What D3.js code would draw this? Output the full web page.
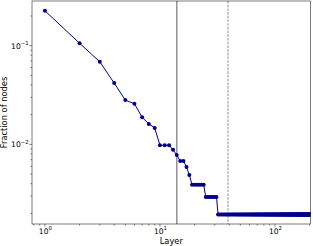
<!DOCTYPE html>
<html>
<head>
<meta charset="utf-8">
<script src="https://cdn.jsdelivr.net/npm/d3@7"></script>
<style>
    body { margin: 0; background: #fff; }
    text { font-family: "DejaVu Sans", sans-serif; }
</style>
</head>
<body>
<div id="chart"></div>
<script>
// fraction of nodes per layer (layer = index + 1)
let fractions = [
    0.226, 0.106, 0.0687, 0.0418, 0.0281, 0.0258, 0.0188, 0.0161, 0.0147, 0.0098,
    0.0098, 0.0098, 0.0088, 0.0078, 0.0068, 0.0068, 0.0059, 0.0049, 0.0039, 0.0039,
    0.0039, 0.0039, 0.0039, 0.0039, 0.00293, 0.00293, 0.00293, 0.00293, 0.00293, 0.00293,
    0.00293, 0.00195, 0.00195, 0.00195, 0.00195, 0.00195, 0.00195, 0.00195, 0.00195, 0.00195,
    0.00195, 0.00195, 0.00195, 0.00195, 0.00195, 0.00195, 0.00195, 0.00195, 0.00195, 0.00195,
    0.00195, 0.00195, 0.00195, 0.00195, 0.00195, 0.00195, 0.00195, 0.00195, 0.00195, 0.00195,
    0.00195, 0.00195, 0.00195, 0.00195, 0.00195, 0.00195, 0.00195, 0.00195, 0.00195, 0.00195,
    0.00195, 0.00195, 0.00195, 0.00195, 0.00195, 0.00195, 0.00195, 0.00195, 0.00195, 0.00195,
    0.00195, 0.00195, 0.00195, 0.00195, 0.00195, 0.00195, 0.00195, 0.00195, 0.00195, 0.00195,
    0.00195, 0.00195, 0.00195, 0.00195, 0.00195, 0.00195, 0.00195, 0.00195, 0.00195, 0.00195,
    0.00195, 0.00195, 0.00195, 0.00195, 0.00195, 0.00195, 0.00195, 0.00195, 0.00195, 0.00195,
    0.00195, 0.00195, 0.00195, 0.00195, 0.00195, 0.00195, 0.00195, 0.00195, 0.00195, 0.00195,
    0.00195, 0.00195, 0.00195, 0.00195, 0.00195, 0.00195, 0.00195, 0.00195, 0.00195, 0.00195,
    0.00195, 0.00195, 0.00195, 0.00195, 0.00195, 0.00195, 0.00195, 0.00195, 0.00195, 0.00195,
    0.00195, 0.00195, 0.00195, 0.00195, 0.00195, 0.00195, 0.00195, 0.00195, 0.00195, 0.00195,
    0.00195, 0.00195, 0.00195, 0.00195, 0.00195, 0.00195, 0.00195, 0.00195, 0.00195, 0.00195,
    0.00195, 0.00195, 0.00195, 0.00195, 0.00195, 0.00195, 0.00195, 0.00195, 0.00195, 0.00195,
    0.00195, 0.00195, 0.00195, 0.00195, 0.00195, 0.00195, 0.00195, 0.00195, 0.00195, 0.00195,
    0.00195, 0.00195, 0.00195, 0.00195, 0.00195, 0.00195, 0.00195, 0.00195, 0.00195, 0.00195,
    0.00195, 0.00195, 0.00195, 0.00195, 0.00195, 0.00195, 0.00195, 0.00195, 0.00195, 0.00195,
    0.00195, 0.00195, 0.00195, 0.00195
];
let solidLine = [14];
let dashedLine = [39];
let xTicks = [1, 10, 100];
let yTicks = [0.01, 0.1];
let xDomain = [0.772, 203.5];
let yDomain = [0.00156, 0.284];

(() => {
    let w = 313;
    let h = 246;
    let m = {left: 32, right: 2.5, top: 1, bottom: 22};
    let iw = w - m.left - m.right;
    let ih = h - m.top - m.bottom;

    let svg = d3.select("#chart")
        .append("svg")
        .attr("width", w)
        .attr("height", h);

    let x = d3.scaleLog().domain(xDomain).range([0, iw]);
    let y = d3.scaleLog().domain(yDomain).range([ih, 0]);

    let g = svg.append("g")
        .attr("transform", "translate(" + m.left + "," + m.top + ")");

    svg.append("clipPath")
        .attr("id", "clip")
        .append("rect")
        .attr("width", iw)
        .attr("height", ih);

    // minor ticks
    let minorX = [];
    for (let d = 0.1; d <= 100; d *= 10) {
        for (let k = 2; k <= 9; k++) {
            let v = +(d * k).toPrecision(3);
            if (v > xDomain[0] && v < xDomain[1]) minorX.push(v);
        }
    }
    let minorY = [];
    for (let d = 0.001; d <= 0.1; d *= 10) {
        for (let k = 2; k <= 9; k++) {
            let v = +(d * k).toPrecision(3);
            if (v > yDomain[0] && v < yDomain[1]) minorY.push(v);
        }
    }

    let tickColor = "#333";

    g.selectAll(".xminor")
        .data(minorX)
        .enter()
        .append("line")
        .attr("x1", d => x(d)).attr("x2", d => x(d))
        .attr("y1", ih).attr("y2", ih + 1.6)
        .attr("stroke", tickColor).attr("stroke-width", 0.6);

    g.selectAll(".yminor")
        .data(minorY)
        .enter()
        .append("line")
        .attr("y1", d => y(d)).attr("y2", d => y(d))
        .attr("x1", 0).attr("x2", -1.6)
        .attr("stroke", tickColor).attr("stroke-width", 0.6);

    g.selectAll(".xmajor")
        .data(xTicks)
        .enter()
        .append("line")
        .attr("x1", d => x(d)).attr("x2", d => x(d))
        .attr("y1", ih).attr("y2", ih + 2.6)
        .attr("stroke", tickColor).attr("stroke-width", 0.6);

    g.selectAll(".ymajor")
        .data(yTicks)
        .enter()
        .append("line")
        .attr("y1", d => y(d)).attr("y2", d => y(d))
        .attr("x1", 0).attr("x2", -2.6)
        .attr("stroke", tickColor).attr("stroke-width", 0.6);

    let powLabel = (sel, d) => {
        let e = Math.round(Math.log10(d));
        sel.append("tspan").text("10");
        sel.append("tspan")
            .attr("font-size", 5.4)
            .attr("dy", -3.4)
            .text(e < 0 ? "\u2212" + (-e) : "" + e);
    };

    g.selectAll(".xlab")
        .data(xTicks)
        .enter()
        .append("text")
        .attr("x", d => x(d) + 0.5)
        .attr("y", ih + 9.8)
        .attr("text-anchor", "middle")
        .attr("font-size", 7.6)
        .attr("fill", "#000")
        .each(function (d) { powLabel(d3.select(this), d); });

    g.selectAll(".ylab")
        .data(yTicks)
        .enter()
        .append("text")
        .attr("x", -3.3)
        .attr("y", d => y(d) + 2.8)
        .attr("text-anchor", "end")
        .attr("font-size", 7.6)
        .attr("fill", "#000")
        .each(function (d) { powLabel(d3.select(this), d); });

    // reference lines
    g.selectAll(".solid")
        .data(solidLine)
        .enter()
        .append("line")
        .attr("x1", d => x(d)).attr("x2", d => x(d))
        .attr("y1", 0).attr("y2", ih)
        .attr("stroke", "#8c8c8c")
        .attr("stroke-width", 1.4);

    g.selectAll(".dashed")
        .data(dashedLine)
        .enter()
        .append("line")
        .attr("x1", d => x(d)).attr("x2", d => x(d))
        .attr("y1", 0).attr("y2", ih)
        .attr("stroke", "#9a9a9a")
        .attr("stroke-width", 1.1)
        .attr("stroke-dasharray", "2.6,1.1");

    // series
    let pts = fractions.map((v, i) => [i + 1, v]);
    let plot = g.append("g").attr("clip-path", "url(#clip)");

    plot.append("path")
        .datum(pts)
        .attr("fill", "none")
        .attr("stroke", "#00008b")
        .attr("stroke-width", 1)
        .attr("d", d3.line().x(d => x(d[0])).y(d => y(d[1])));

    plot.selectAll("circle")
        .data(pts)
        .enter()
        .append("circle")
        .attr("cx", d => x(d[0]))
        .attr("cy", d => y(d[1]))
        .attr("r", 2)
        .attr("fill", "#00008b");

    // frame
    g.append("rect")
        .attr("width", iw)
        .attr("height", ih)
        .attr("fill", "none")
        .attr("stroke", "#222")
        .attr("stroke-width", 0.6);

    svg.append("text")
        .attr("x", m.left + iw / 2)
        .attr("y", 244)
        .attr("text-anchor", "middle")
        .attr("font-size", 8.3)
        .attr("fill", "#000")
        .text("Layer");

    svg.append("text")
        .attr("transform", "translate(7.2," + (m.top + ih / 2) + ") rotate(-90)")
        .attr("text-anchor", "middle")
        .attr("font-size", 8.3)
        .attr("fill", "#000")
        .text("Fraction of nodes");
})();
</script>
</body>
</html>
